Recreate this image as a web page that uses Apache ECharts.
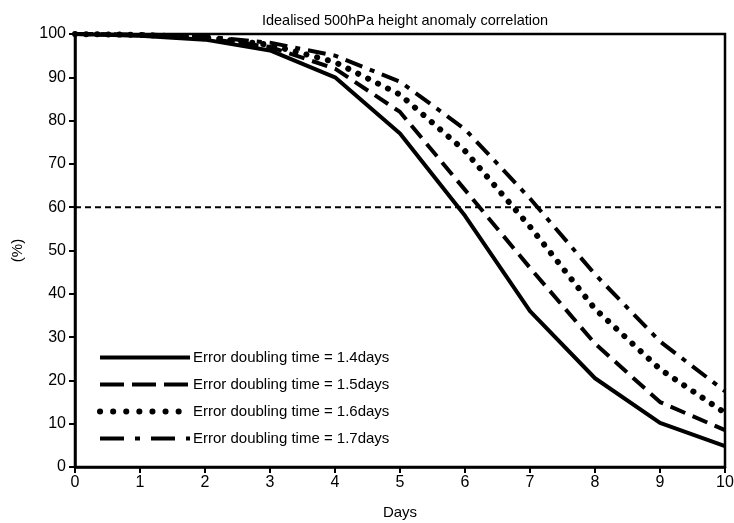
<!DOCTYPE html>
<html><head><meta charset="utf-8">
<script src="https://cdn.jsdelivr.net/npm/echarts@6/dist/echarts.min.js"></script>
<style>html,body{margin:0;padding:0;background:#fff}#c{width:734px;height:523px}</style>
</head><body><div id="c"></div>
<script>
const days = [0,1,2,3,4,5,6,7,8,9,10];
const yTicks = [0,10,20,30,40,50,60,70,80,90,100];
const s14 = [100, 99.6, 98.7, 96.2, 90, 77, 58, 36, 20.5, 10.2, 4.8];
const s15 = [100, 99.7, 99.0, 97.0, 92, 82, 64, 46, 28.5, 15, 8.5];
const s16 = [100, 99.8, 99.2, 97.5, 93.5, 86, 73, 55.5, 36.5, 22.6, 12.5];
const s17 = [100, 99.9, 99.4, 98.0, 95, 89, 78, 62, 44.5, 29, 17.5];
const names = ['Error doubling time = 1.4days','Error doubling time = 1.5days','Error doubling time = 1.6days','Error doubling time = 1.7days'];
const refLevel = 60;
const font = 'Liberation Sans, Arial, sans-serif';

function pts(arr){ return days.map((d,i)=>[d, arr[i]]); }
const styles = [
  {type:'solid', width:4, cap:'butt'},
  {type:[16,8], width:4, cap:'butt'},
  {type:[0.1,11], width:6, cap:'round'},
  {type:[18,8,5,8], width:4, cap:'butt'}
];
const legendStyles = [
  {type:'solid', width:4, cap:'butt'},
  {type:[24,8], width:4, cap:'butt'},
  {type:[0.1,13], width:6, cap:'round'},
  {type:[24,11,5,11], width:4, cap:'butt'}
];
const all = [s14,s15,s16,s17];
const series = all.map((a,i)=>({
  name: names[i], type:'line', data: pts(a), symbol:'none', z: 3,
  itemStyle:{color:'#000'},
  lineStyle:{color:'#000', width: styles[i].width, type: styles[i].type, cap: styles[i].cap}
}));
series.push({
  type:'line', data:[[0,refLevel],[10,refLevel]], symbol:'none', silent:true, z:2,
  lineStyle:{color:'#000', width:2, type:[6,4]}
});

const chart = echarts.init(document.getElementById('c'));
chart.setOption({
  animation:false,
  backgroundColor:'#fff',
  title:{text:'Idealised 500hPa height anomaly correlation', left:400, textAlign:'center', top:8,
    textStyle:{fontFamily:font, fontSize:14.5, fontWeight:'normal', color:'#000'}},
  grid:{left:75, right:9, top:34, bottom:56, containLabel:false, outerBoundsMode:'none',
    show:true, borderColor:'#000', borderWidth:2.5, backgroundColor:'transparent'},
  legend:{orient:'vertical', left:92, top:345, itemWidth:90, itemHeight:14, itemGap:12,
    data: names.map((n,i)=>({name:n, itemStyle:{opacity:0},
      lineStyle:{color:'#000', width:legendStyles[i].width, type:legendStyles[i].type, cap:legendStyles[i].cap}})),
    textStyle:{fontFamily:font, fontSize:15, color:'#000', padding:[0,0,0,-2]}},
  xAxis:{type:'value', min:0, max:10, interval:1, name:'Days', nameLocation:'middle', nameGap:38,
    nameTextStyle:{fontFamily:font, fontSize:15, color:'#000'},
    axisLine:{lineStyle:{color:'#000', width:2.5}},
    axisTick:{show:true, length:6, lineStyle:{color:'#000', width:2}},
    axisLabel:{fontFamily:font, fontSize:16, color:'#000', margin:8},
    splitLine:{show:false}},
  yAxis:{type:'value', min:0, max:100, interval:10, name:'(%)', nameLocation:'middle', nameGap:50, nameRotate:90,
    nameTextStyle:{fontFamily:font, fontSize:15, color:'#000'},
    axisLine:{show:true, lineStyle:{color:'#000', width:2.5}},
    axisTick:{show:true, length:6, lineStyle:{color:'#000', width:2}},
    axisLabel:{fontFamily:font, fontSize:16, color:'#000', margin:9,
      formatter:(v)=> yTicks.includes(v) ? String(v) : ''},
    splitLine:{show:false}},
  series: series
});
</script></body></html>
